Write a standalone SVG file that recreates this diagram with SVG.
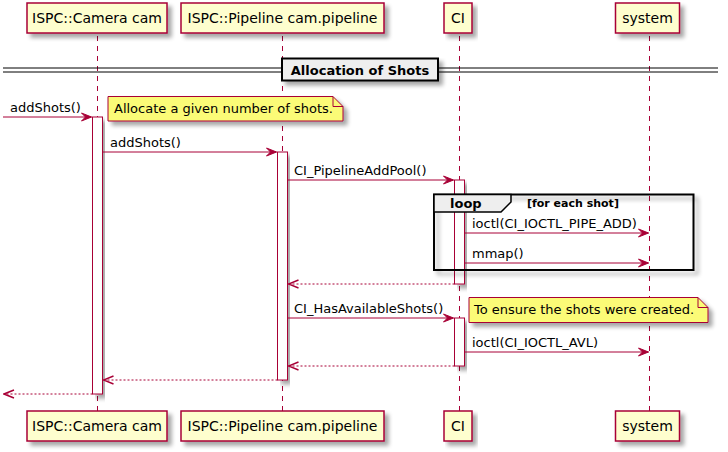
<svg xmlns="http://www.w3.org/2000/svg" width="728" height="452" viewBox="0 0 728 452">
<defs>
<filter id="sh" x="-10%" y="-20%" width="130%" height="160%">
<feGaussianBlur in="SourceAlpha" stdDeviation="2"/>
<feOffset dx="4" dy="4" result="b"/>
<feComponentTransfer><feFuncA type="linear" slope="0.35"/></feComponentTransfer>
<feMerge><feMergeNode/><feMergeNode in="SourceGraphic"/></feMerge>
</filter>
<marker id="af" viewBox="-11 -5 12 10" refX="0" refY="0" markerWidth="12" markerHeight="10" markerUnits="userSpaceOnUse" orient="auto">
<path d="M0,0 L-10,-4 L-6,0 L-10,4 Z" fill="#A80036" stroke="#A80036" stroke-width="1"/>
</marker>
<marker id="ao" viewBox="-11 -5 12 10" refX="0" refY="0" markerWidth="12" markerHeight="10" markerUnits="userSpaceOnUse" orient="auto">
<path d="M-10,-4 L0,0 L-10,4" fill="none" stroke="#A80036" stroke-width="1.5"/>
</marker>
</defs>
<style>
text{font-family:"DejaVu Sans","Liberation Sans",sans-serif;fill:#000}
.pbox{fill:#FEFECE;stroke:#A80036;stroke-width:1.5}
.pt{font-size:14px;text-anchor:middle}
.life{stroke:#A80036;stroke-width:1;stroke-dasharray:5,5;fill:none}
.act{fill:#FFFFFF;stroke:#A80036;stroke-width:1}
.msg{stroke:#A80036;stroke-width:1;fill:none;marker-end:url(#af)}
.ret{stroke:#A80036;stroke-width:1;fill:none;stroke-dasharray:2,2;marker-end:url(#ao)}
.ml{font-size:13px}
.note{fill:#FBFB77;stroke:#A80036;stroke-width:1}
.fold{fill:none;stroke:#A80036;stroke-width:1}
</style>

<g id="lifelines">
<line class="life" x1="97.5" y1="36" x2="97.5" y2="411"/>
<line class="life" x1="282.5" y1="36" x2="282.5" y2="411"/>
<line class="life" x1="459.5" y1="36" x2="459.5" y2="411"/>
<line class="life" x1="649.5" y1="36" x2="649.5" y2="411"/>
</g>

<g id="divider">
<line x1="3" y1="68" x2="718" y2="68" stroke="#000" stroke-width="1"/>
<line x1="3" y1="72" x2="718" y2="72" stroke="#000" stroke-width="1"/>
<rect x="282" y="58.5" width="156" height="22" fill="#EEEEEE" stroke="#000" stroke-width="2" filter="url(#sh)"/>
<text x="360" y="74.5" font-size="13" font-weight="bold" text-anchor="middle">Allocation of Shots</text>
</g>

<g id="p_camera">
<rect class="pbox" x="27" y="3" width="140" height="30" filter="url(#sh)"/>
<text class="pt" x="97" y="23">ISPC::Camera cam</text>
<rect class="pbox" x="27" y="411" width="140" height="30" filter="url(#sh)"/>
<text class="pt" x="97" y="431">ISPC::Camera cam</text>
</g>
<g id="p_pipeline">
<rect class="pbox" x="181" y="3" width="203" height="30" filter="url(#sh)"/>
<text class="pt" x="282.5" y="23">ISPC::Pipeline cam.pipeline</text>
<rect class="pbox" x="181" y="411" width="203" height="30" filter="url(#sh)"/>
<text class="pt" x="282.5" y="431">ISPC::Pipeline cam.pipeline</text>
</g>
<g id="p_ci">
<rect class="pbox" x="444" y="3" width="28" height="30" filter="url(#sh)"/>
<text class="pt" x="458" y="23">CI</text>
<rect class="pbox" x="444" y="411" width="28" height="30" filter="url(#sh)"/>
<text class="pt" x="458" y="431">CI</text>
</g>
<g id="p_system">
<rect class="pbox" x="615.5" y="3" width="64" height="30" filter="url(#sh)"/>
<text class="pt" x="647.5" y="23">system</text>
<rect class="pbox" x="615.5" y="411" width="64" height="30" filter="url(#sh)"/>
<text class="pt" x="647.5" y="431">system</text>
</g>

<g id="activations">
<rect class="act" x="92.5" y="117" width="10" height="277" filter="url(#sh)"/>
<rect class="act" x="277.5" y="152" width="10" height="228" filter="url(#sh)"/>
<rect class="act" x="454.5" y="180" width="10" height="104" filter="url(#sh)"/>
<rect class="act" x="454.5" y="318" width="10" height="48" filter="url(#sh)"/>
</g>

<g id="loop">
<rect x="434" y="194.5" width="259.5" height="75.5" fill="none" stroke="#000" stroke-width="2" filter="url(#sh)"/>
<path d="M434,194.5 L511,194.5 L511,202 L501,212 L434,212 Z" fill="#EEEEEE" stroke="#000" stroke-width="1.5"/>
<text x="450" y="208" font-size="13" font-weight="bold">loop</text>
<text x="527" y="207" font-size="11" font-weight="bold">[for each shot]</text>
</g>

<g id="note1">
<path class="note" d="M108,96.5 L333,96.5 L343,106.5 L343,121 L108,121 Z" filter="url(#sh)"/>
<path class="fold" d="M333,96.5 L333,106.5 L343,106.5"/>
<text class="ml" x="114" y="113">Allocate a given number of shots.</text>
</g>
<g id="note2">
<path class="note" d="M469,297.5 L698,297.5 L708,307.5 L708,322.5 L469,322.5 Z" filter="url(#sh)"/>
<path class="fold" d="M698,297.5 L698,307.5 L708,307.5"/>
<text class="ml" x="474" y="314">To ensure the shots were created.</text>
</g>

<g id="connectors">
<line class="msg" x1="3" y1="117" x2="91.5" y2="117"/>
<text class="ml" x="10" y="112">addShots()</text>
<line class="msg" x1="102.5" y1="152" x2="276.5" y2="152"/>
<text class="ml" x="110" y="147">addShots()</text>
<line class="msg" x1="287.5" y1="180" x2="453.5" y2="180"/>
<text class="ml" x="294" y="175">CI_PipelineAddPool()</text>
<line class="msg" x1="464.5" y1="233" x2="648.5" y2="233"/>
<text class="ml" x="472" y="228">ioctl(CI_IOCTL_PIPE_ADD)</text>
<line class="msg" x1="464.5" y1="263" x2="648.5" y2="263"/>
<text class="ml" x="472" y="258">mmap()</text>
<line class="ret" x1="454.5" y1="284" x2="288.5" y2="284"/>
<line class="msg" x1="287.5" y1="318" x2="453.5" y2="318"/>
<text class="ml" x="294" y="313">CI_HasAvailableShots()</text>
<line class="msg" x1="464.5" y1="352" x2="648.5" y2="352"/>
<text class="ml" x="472" y="347">ioctl(CI_IOCTL_AVL)</text>
<line class="ret" x1="454.5" y1="366" x2="288.5" y2="366"/>
<line class="ret" x1="277.5" y1="380" x2="103.5" y2="380"/>
<line class="ret" x1="92.5" y1="394" x2="4" y2="394"/>
</g>
</svg>
